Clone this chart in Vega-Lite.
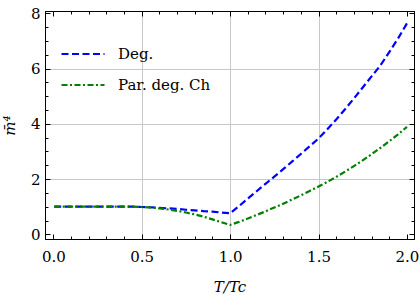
{
  "$schema": "https://vega.github.io/schema/vega-lite/v6.json",
  "width": 369,
  "height": 228,
  "autosize": {"type": "none"},
  "padding": {"left": 45, "top": 11, "right": 6, "bottom": 63},
  "background": "white",
  "config": {
    "view": {"stroke": "black", "strokeWidth": 1},
    "font": "DejaVu Serif",
    "axis": {
      "domainColor": "black",
      "domainWidth": 1,
      "tickColor": "black",
      "tickWidth": 1,
      "labelFont": "DejaVu Serif",
      "labelFontSize": 15,
      "labelColor": "black",
      "titleFont": "DejaVu Serif",
      "titleFontSize": 15,
      "titleFontWeight": "normal",
      "titleFontStyle": "italic",
      "titleColor": "black",
      "gridColor": "#c8c8c8",
      "gridWidth": 1
    },
    "legend": {
      "labelFont": "DejaVu Serif",
      "labelFontSize": 15,
      "labelColor": "black"
    }
  },
  "datasets": {
    "curves": [
      {"series": "Deg.", "t": 0.005, "m4": 1.0},
      {"series": "Deg.", "t": 0.05, "m4": 1.0},
      {"series": "Deg.", "t": 0.1, "m4": 1.0},
      {"series": "Deg.", "t": 0.15, "m4": 1.0},
      {"series": "Deg.", "t": 0.2, "m4": 1.0},
      {"series": "Deg.", "t": 0.25, "m4": 1.0},
      {"series": "Deg.", "t": 0.3, "m4": 1.0},
      {"series": "Deg.", "t": 0.35, "m4": 1.0},
      {"series": "Deg.", "t": 0.4, "m4": 1.0},
      {"series": "Deg.", "t": 0.45, "m4": 1.0},
      {"series": "Deg.", "t": 0.5, "m4": 0.99},
      {"series": "Deg.", "t": 0.55, "m4": 0.98},
      {"series": "Deg.", "t": 0.6, "m4": 0.96},
      {"series": "Deg.", "t": 0.65, "m4": 0.94},
      {"series": "Deg.", "t": 0.7, "m4": 0.92},
      {"series": "Deg.", "t": 0.75, "m4": 0.89},
      {"series": "Deg.", "t": 0.8, "m4": 0.87},
      {"series": "Deg.", "t": 0.85, "m4": 0.84},
      {"series": "Deg.", "t": 0.9, "m4": 0.82},
      {"series": "Deg.", "t": 0.95, "m4": 0.79},
      {"series": "Deg.", "t": 1.0, "m4": 0.76},
      {"series": "Deg.", "t": 1.05, "m4": 1.02},
      {"series": "Deg.", "t": 1.1, "m4": 1.29},
      {"series": "Deg.", "t": 1.15, "m4": 1.56},
      {"series": "Deg.", "t": 1.2, "m4": 1.83},
      {"series": "Deg.", "t": 1.25, "m4": 2.09},
      {"series": "Deg.", "t": 1.3, "m4": 2.36},
      {"series": "Deg.", "t": 1.35, "m4": 2.63},
      {"series": "Deg.", "t": 1.4, "m4": 2.91},
      {"series": "Deg.", "t": 1.45, "m4": 3.19},
      {"series": "Deg.", "t": 1.5, "m4": 3.47},
      {"series": "Deg.", "t": 1.55, "m4": 3.81},
      {"series": "Deg.", "t": 1.6, "m4": 4.16},
      {"series": "Deg.", "t": 1.65, "m4": 4.53},
      {"series": "Deg.", "t": 1.7, "m4": 4.92},
      {"series": "Deg.", "t": 1.75, "m4": 5.32},
      {"series": "Deg.", "t": 1.8, "m4": 5.72},
      {"series": "Deg.", "t": 1.85, "m4": 6.12},
      {"series": "Deg.", "t": 1.9, "m4": 6.6},
      {"series": "Deg.", "t": 1.95, "m4": 7.1},
      {"series": "Deg.", "t": 2.0, "m4": 7.64},
      {"series": "Par. deg. Ch", "t": 0.005, "m4": 1.0},
      {"series": "Par. deg. Ch", "t": 0.05, "m4": 1.0},
      {"series": "Par. deg. Ch", "t": 0.1, "m4": 1.0},
      {"series": "Par. deg. Ch", "t": 0.15, "m4": 1.0},
      {"series": "Par. deg. Ch", "t": 0.2, "m4": 1.0},
      {"series": "Par. deg. Ch", "t": 0.25, "m4": 1.0},
      {"series": "Par. deg. Ch", "t": 0.3, "m4": 1.0},
      {"series": "Par. deg. Ch", "t": 0.35, "m4": 1.0},
      {"series": "Par. deg. Ch", "t": 0.4, "m4": 1.0},
      {"series": "Par. deg. Ch", "t": 0.45, "m4": 1.0},
      {"series": "Par. deg. Ch", "t": 0.5, "m4": 0.99},
      {"series": "Par. deg. Ch", "t": 0.55, "m4": 0.97},
      {"series": "Par. deg. Ch", "t": 0.6, "m4": 0.94},
      {"series": "Par. deg. Ch", "t": 0.65, "m4": 0.9},
      {"series": "Par. deg. Ch", "t": 0.7, "m4": 0.85},
      {"series": "Par. deg. Ch", "t": 0.75, "m4": 0.79},
      {"series": "Par. deg. Ch", "t": 0.8, "m4": 0.72},
      {"series": "Par. deg. Ch", "t": 0.85, "m4": 0.64},
      {"series": "Par. deg. Ch", "t": 0.9, "m4": 0.54},
      {"series": "Par. deg. Ch", "t": 0.95, "m4": 0.44},
      {"series": "Par. deg. Ch", "t": 1.0, "m4": 0.34},
      {"series": "Par. deg. Ch", "t": 1.05, "m4": 0.45},
      {"series": "Par. deg. Ch", "t": 1.1, "m4": 0.57},
      {"series": "Par. deg. Ch", "t": 1.15, "m4": 0.7},
      {"series": "Par. deg. Ch", "t": 1.2, "m4": 0.83},
      {"series": "Par. deg. Ch", "t": 1.25, "m4": 0.97},
      {"series": "Par. deg. Ch", "t": 1.3, "m4": 1.11},
      {"series": "Par. deg. Ch", "t": 1.35, "m4": 1.26},
      {"series": "Par. deg. Ch", "t": 1.4, "m4": 1.41},
      {"series": "Par. deg. Ch", "t": 1.45, "m4": 1.57},
      {"series": "Par. deg. Ch", "t": 1.5, "m4": 1.73},
      {"series": "Par. deg. Ch", "t": 1.55, "m4": 1.9},
      {"series": "Par. deg. Ch", "t": 1.6, "m4": 2.08},
      {"series": "Par. deg. Ch", "t": 1.65, "m4": 2.27},
      {"series": "Par. deg. Ch", "t": 1.7, "m4": 2.47},
      {"series": "Par. deg. Ch", "t": 1.75, "m4": 2.68},
      {"series": "Par. deg. Ch", "t": 1.8, "m4": 2.9},
      {"series": "Par. deg. Ch", "t": 1.85, "m4": 3.13},
      {"series": "Par. deg. Ch", "t": 1.9, "m4": 3.37},
      {"series": "Par. deg. Ch", "t": 1.95, "m4": 3.62},
      {"series": "Par. deg. Ch", "t": 2.0, "m4": 3.89}
    ]
  },
  "data": {"name": "curves"},
  "layer": [
    {
      "mark": {"type": "line", "strokeWidth": 2.2, "clip": true},
      "encoding": {
        "x": {
          "field": "t",
          "type": "quantitative",
          "scale": {"domain": [-0.047, 2.04], "nice": false, "zero": false},
          "axis": {
            "orient": "bottom",
            "title": "T/Tc",
            "titlePadding": 15,
            "values": [0, 0.1, 0.2, 0.3, 0.4, 0.5, 0.6, 0.7, 0.8, 0.9, 1.0, 1.1, 1.2, 1.3, 1.4, 1.5, 1.6, 1.7, 1.8, 1.9, 2.0],
            "labelExpr": "abs(datum.value*2 - round(datum.value*2)) < 0.001 ? format(datum.value, '.1f') : ''",
            "labelPadding": 15,
            "labelFlush": false,
            "tickSize": {"condition": {"test": "abs(datum.value*2 - round(datum.value*2)) < 0.001", "value": -5}, "value": -3},
            "grid": true,
            "gridOpacity": {"condition": {"test": "abs(datum.value*2 - round(datum.value*2)) < 0.001 && datum.value > 0.01 && datum.value < 1.99", "value": 1}, "value": 0}
          }
        },
        "y": {
          "field": "m4",
          "type": "quantitative",
          "scale": {"domain": [-0.17, 8.09], "nice": false, "zero": false},
          "axis": {
            "orient": "left",
            "title": "m̄⁴",
            "titlePadding": 13,
            "values": [0, 0.5, 1, 1.5, 2, 2.5, 3, 3.5, 4, 4.5, 5, 5.5, 6, 6.5, 7, 7.5, 8],
            "labelExpr": "abs(datum.value/2 - round(datum.value/2)) < 0.001 ? format(datum.value, 'd') : ''",
            "labelPadding": 10,
            "labelFlush": false,
            "tickSize": {"condition": {"test": "abs(datum.value/2 - round(datum.value/2)) < 0.001", "value": -5}, "value": -3},
            "grid": true,
            "gridOpacity": {"condition": {"test": "abs(datum.value/2 - round(datum.value/2)) < 0.001 && datum.value > 0.01 && datum.value < 7.99", "value": 1}, "value": 0}
          }
        },
        "color": {
          "field": "series",
          "type": "nominal",
          "scale": {"domain": ["Deg.", "Par. deg. Ch"], "range": ["#0000ff", "#008000"]},
          "legend": {
            "title": null,
            "orient": "none",
            "legendX": 15,
            "legendY": 20,
            "padding": 0,
            "symbolType": "stroke",
            "symbolSize": 1849,
            "symbolStrokeWidth": 2.2,
            "labelOffset": 12,
            "rowPadding": -2
          }
        },
        "strokeDash": {
          "field": "series",
          "type": "nominal",
          "scale": {"domain": ["Deg.", "Par. deg. Ch"], "range": [[7, 3.5], [6, 2.5, 2, 2.5]]},
          "legend": {
            "title": null,
            "orient": "none",
            "legendX": 15,
            "legendY": 20,
            "padding": 0,
            "symbolType": "stroke",
            "symbolSize": 1849,
            "symbolStrokeWidth": 2.2,
            "labelOffset": 12,
            "rowPadding": -2
          }
        }
      }
    },
    {
      "mark": {"type": "line", "opacity": 0},
      "encoding": {
        "x": {
          "field": "t",
          "type": "quantitative",
          "axis": {
            "orient": "top",
            "title": null,
            "labels": false,
            "grid": false,
            "values": [0, 0.1, 0.2, 0.3, 0.4, 0.5, 0.6, 0.7, 0.8, 0.9, 1.0, 1.1, 1.2, 1.3, 1.4, 1.5, 1.6, 1.7, 1.8, 1.9, 2.0],
            "tickSize": {"condition": {"test": "abs(datum.value*2 - round(datum.value*2)) < 0.001", "value": -5}, "value": -3}
          }
        },
        "y": {
          "field": "m4",
          "type": "quantitative",
          "axis": {
            "orient": "right",
            "title": null,
            "labels": false,
            "grid": false,
            "values": [0, 0.5, 1, 1.5, 2, 2.5, 3, 3.5, 4, 4.5, 5, 5.5, 6, 6.5, 7, 7.5, 8],
            "tickSize": {"condition": {"test": "abs(datum.value/2 - round(datum.value/2)) < 0.001", "value": -5}, "value": -3}
          }
        }
      }
    }
  ],
  "resolve": {"axis": {"x": "independent", "y": "independent"}}
}
